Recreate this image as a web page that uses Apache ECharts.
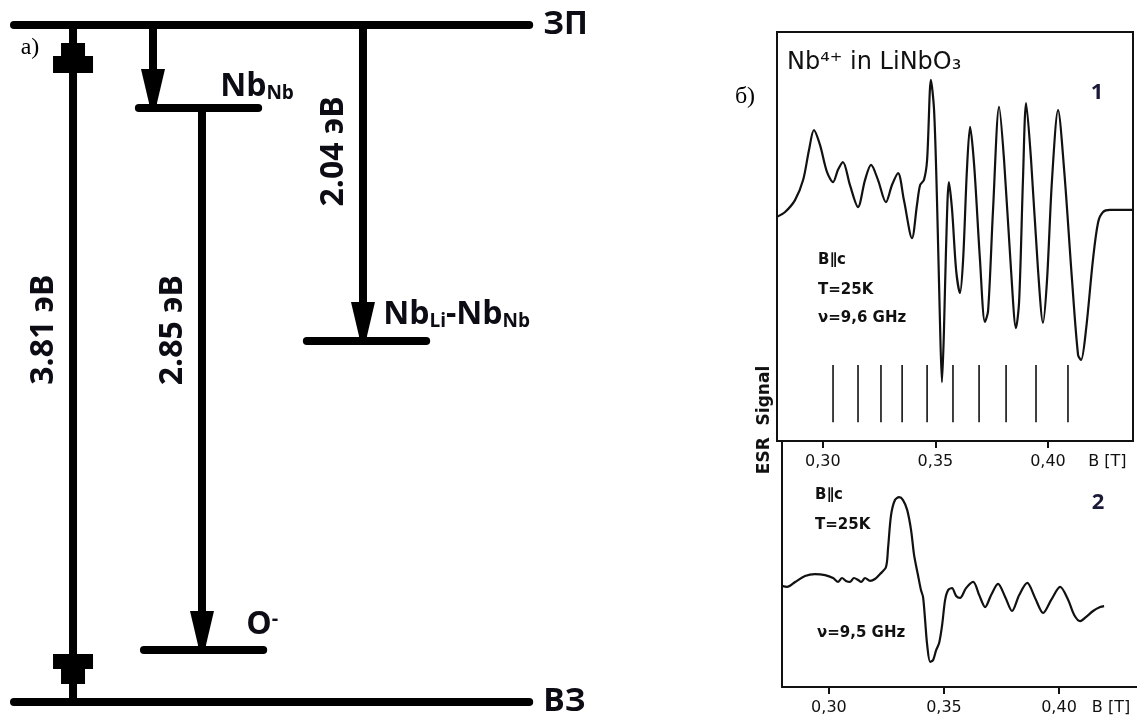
<!DOCTYPE html>
<html>
<head>
<meta charset="utf-8">
<script src="https://cdn.jsdelivr.net/npm/echarts@6/dist/echarts.min.js"></script>
<style>
  html, body { margin: 0; padding: 0; background: #fff; }
  #chart { width: 1137px; height: 718px; }
</style>
</head>
<body>
<div id="chart"></div>
<script>
// ---------- а) energy-level scheme (schematic, not to scale) ----------
const levelNames    = ['ЗП', 'ВЗ', 'Nb{s|Nb}', 'Nb{s|Li}-Nb{s|Nb}', 'O{p|-}'];
const levelPosition = [3.81, 0, 3.343, 2.032, 0.293];   // height of each level in the scheme
const levelFrom     = [2.5, 2.5, 24.8, 54.8, 25.7];     // horizontal extent, scheme columns
const levelTo       = [94.5, 94.5, 46.1, 76.1, 47.0];

const transitionColumn = [13.04, 27.32, 36.07, 64.82];
const transitionFrom   = [3.81, 3.81, 3.343, 3.81];
const transitionTo     = [0, 3.343, 0.293, 2.032];
const transitionLabel  = ['3.81 эВ', '', '2.85 эВ', '2.04 эВ'];

// ---------- б) ESR spectra of Nb4+ in LiNbO3 ----------
const upperField = [0.2796,0.2832,0.2876,0.2912,0.2938,0.2960,0.2987,0.3018,0.3045,0.3067,0.3089,0.3120,0.3156,0.3187,0.3214,0.3245,0.3280,0.3307,0.3334,0.3360,0.3396,0.3418,0.3432,0.3449,0.3463,0.3480,0.3494,0.3507,0.3520,0.3529,0.3538,0.3547,0.3560,0.3574,0.3592,0.3609,0.3623,0.3640,0.3654,0.3672,0.3698,0.3720,0.3734,0.3756,0.3783,0.3805,0.3836,0.3858,0.3872,0.3889,0.3903,0.3925,0.3956,0.3978,0.3996,0.4018,0.4045,0.4072,0.4107,0.4134,0.4147,0.4169,0.4200,0.4223,0.4245,0.4276,0.4378];
const upperSignal = [54.8,56.0,58.9,63.8,71.1,76.0,72.4,65.8,63.3,66.3,68.2,62.6,57.2,63.8,67.5,63.8,58.4,62.6,65.5,58.9,49.6,57.7,62.6,63.8,68.7,88.3,80.9,58.9,29.6,14.4,27.1,46.7,63.3,56.5,41.8,36.2,44.3,66.3,76.8,67.5,44.3,29.1,31.8,56.5,81.7,68.7,41.8,27.6,34.2,63.8,82.6,68.7,41.8,28.9,39.4,63.8,80.9,66.3,39.4,21.0,19.8,27.1,44.3,53.5,56.0,56.5,56.5];

// hyperfine line positions (I = 9/2, ten lines)
const stickField = [0.3045,0.3156,0.3258,0.3352,0.3463,0.3578,0.3694,0.3814,0.3947,0.4089];
const stickLow = 4.6;
const stickHigh = 18.6;

const lowerField = [0.2796,0.2818,0.2853,0.2896,0.2939,0.2983,0.3018,0.3040,0.3057,0.3074,0.3092,0.3109,0.3127,0.3140,0.3157,0.3179,0.3200,0.3222,0.3248,0.3257,0.3270,0.3287,0.3305,0.3322,0.3340,0.3357,0.3370,0.3387,0.3400,0.3409,0.3418,0.3427,0.3440,0.3453,0.3466,0.3479,0.3492,0.3505,0.3518,0.3535,0.3553,0.3570,0.3596,0.3627,0.3653,0.3679,0.3705,0.3735,0.3766,0.3796,0.3827,0.3862,0.3896,0.3931,0.3966,0.4005,0.4040,0.4066,0.4092,0.4118,0.4148,0.4179,0.4196];
const lowerSignal = [41.1,40.7,42.7,45.1,45.9,45.5,44.3,42.7,44.3,43.1,42.7,44.3,43.5,42.7,44.3,43.1,43.9,45.9,48.8,56.5,69.9,76.0,77.2,76.0,72.0,63.8,53.7,45.5,39.4,36.6,27.2,17.1,10.2,11.0,15.0,17.9,25.2,35.4,39.4,40.2,37.0,36.2,40.2,42.7,37.4,32.5,37.4,41.9,36.6,30.9,37.4,42.3,36.2,30.1,35.4,40.7,35.4,29.3,26.8,28.5,30.9,32.5,32.9];

const fieldTicks = [0.30, 0.35, 0.40];
const fieldUnit = 'B [T]';

// ---------- styling ----------
const INK = '#0c0c14';
const SCHEME_FONT = '"Open Sans", "Noto Sans", sans-serif';
const PLOT_FONT = '"DejaVu Sans", sans-serif';

// label placement of each level, relative to the right end of the level line
const levelLabelPlace = [
  { dx: 14, dy: 0 },
  { dx: 14, dy: 0 },
  { dx: -38, dy: -21 },
  { dx: -43, dy: -26 },
  { dx: -17, dy: -25 }
];
// where the rotated energy label sits along each transition (fraction from its start)
const transitionLabelAt = [0.45, 0, 0.41, 0.40];

const levelRich = {
  s: { fontFamily: SCHEME_FONT, fontWeight: 'bold', fontSize: 19, verticalAlign: 'bottom', fill: INK },
  p: { fontFamily: SCHEME_FONT, fontWeight: 'bold', fontSize: 20, verticalAlign: 'top', fill: INK }
};

function renderLevel(params, api) {
  const i = params.dataIndex;
  const a = api.coord([api.value(0), api.value(2)]);
  const b = api.coord([api.value(1), api.value(2)]);
  const place = levelLabelPlace[i];
  return {
    type: 'group',
    children: [
      { type: 'line', shape: { x1: a[0], y1: a[1], x2: b[0], y2: b[1] },
        style: { stroke: '#000', lineWidth: 8, lineCap: 'round' } },
      { type: 'text', x: b[0] + place.dx, y: b[1] + place.dy,
        style: { text: levelNames[i], font: 'bold 32px ' + SCHEME_FONT, fill: INK,
                 align: 'left', verticalAlign: 'middle', rich: levelRich } }
    ]
  };
}

function headDown(cx, tip) {
  return { type: 'polygon', shape: { points: [[cx - 12, tip - 34], [cx + 12, tip - 34], [cx + 4, tip], [cx - 4, tip]] },
           style: { fill: '#000' } };
}

function renderTransition(params, api) {
  const i = params.dataIndex;
  const p0 = api.coord([api.value(0), api.value(1)]);
  const p1 = api.coord([api.value(0), api.value(2)]);
  const cx = p0[0];
  const children = [
    { type: 'line', shape: { x1: cx, y1: p0[1], x2: cx, y2: p1[1] },
      style: { stroke: '#000', lineWidth: 8 } }
  ];
  if (i === 0) {
    // stepped heads at both ends of the band-to-band arrow
    const t = p0[1] + 18;
    children.push({ type: 'polygon', shape: { points: [[cx - 12, t], [cx + 12, t], [cx + 12, t + 13], [cx + 20, t + 13], [cx + 20, t + 30], [cx - 20, t + 30], [cx - 20, t + 13], [cx - 12, t + 13]] }, style: { fill: '#000' } });
    const b = p1[1] - 18;
    children.push({ type: 'polygon', shape: { points: [[cx - 12, b], [cx + 12, b], [cx + 12, b - 15], [cx + 20, b - 15], [cx + 20, b - 30], [cx - 20, b - 30], [cx - 20, b - 15], [cx - 12, b - 15]] }, style: { fill: '#000' } });
  } else {
    children.push(headDown(cx, p1[1] - 5));
  }
  if (transitionLabel[i]) {
    const f = transitionLabelAt[i];
    children.push({ type: 'text', x: cx - 29, y: p0[1] + f * (p1[1] - p0[1]), rotation: Math.PI / 2,
      style: { text: transitionLabel[i], font: 'bold 32px ' + SCHEME_FONT, fill: INK, align: 'center', verticalAlign: 'middle' } });
  }
  return { type: 'group', children };
}

function renderStick(params, api) {
  const a = api.coord([api.value(0), api.value(1)]);
  const b = api.coord([api.value(0), api.value(2)]);
  return { type: 'line', shape: { x1: a[0], y1: a[1], x2: b[0], y2: b[1] },
           style: { stroke: '#111', lineWidth: 1.6 } };
}

function fieldAxis(gridIndex, min, max, unitAt) {
  return {
    gridIndex, type: 'value', min, max,
    axisLine: { show: true, onZero: false, lineStyle: { color: '#111', width: 2 } },
    axisTick: { show: true, inside: false, length: 7, customValues: fieldTicks, lineStyle: { color: '#111', width: 2 } },
    axisLabel: {
      customValues: fieldTicks.concat([unitAt]), margin: 13,
      fontFamily: PLOT_FONT, fontSize: 16, color: '#111',
      formatter: v => (Math.abs(v - unitAt) < 1e-6 ? fieldUnit : v.toFixed(2).replace('.', ','))
    },
    splitLine: { show: false }
  };
}

const upperMin = 0.2796, upperMax = 0.4378;
const lowerMin = 0.2796, lowerMax = 0.4339;

const plotText = (text, x, y, size, extra) => Object.assign({
  type: 'text', x, y,
  style: { text, font: 'bold ' + size + 'px ' + PLOT_FONT, fill: '#111', align: 'left', verticalAlign: 'middle',
           textAlign: 'left', textVerticalAlign: 'middle' }
}, extra || {});

const option = {
  animation: false,
  backgroundColor: '#fff',
  grid: [
    { left: 0, top: 25, width: 560, height: 677 },
    { left: 777, top: 32, width: 356, height: 409, show: true, borderColor: '#111', borderWidth: 2, backgroundColor: 'transparent' },
    { left: 782, top: 441, width: 355, height: 246 }
  ],
  xAxis: [
    { gridIndex: 0, type: 'value', min: 0, max: 100, show: false },
    fieldAxis(1, upperMin, upperMax, 0.4264),
    fieldAxis(2, lowerMin, lowerMax, 0.4226)
  ],
  yAxis: [
    { gridIndex: 0, type: 'value', min: 0, max: 3.81, show: false },
    { gridIndex: 1, type: 'value', min: 0, max: 100, show: false },
    { gridIndex: 2, type: 'value', min: 0, max: 100,
      axisLine: { show: true, lineStyle: { color: '#111', width: 2 } },
      axisTick: { show: false }, axisLabel: { show: false }, splitLine: { show: false } }
  ],
  series: [
    {
      type: 'custom', xAxisIndex: 0, yAxisIndex: 0, renderItem: renderLevel,
      data: levelPosition.map((e, i) => [levelFrom[i], levelTo[i], e])
    },
    {
      type: 'custom', xAxisIndex: 0, yAxisIndex: 0, renderItem: renderTransition,
      data: transitionColumn.map((x, i) => [x, transitionFrom[i], transitionTo[i]])
    },
    {
      type: 'line', xAxisIndex: 1, yAxisIndex: 1, smooth: 0.3, symbol: 'none',
      lineStyle: { color: '#111', width: 2.2 },
      data: upperField.map((b, i) => [b, upperSignal[i]])
    },
    {
      type: 'custom', xAxisIndex: 1, yAxisIndex: 1, renderItem: renderStick,
      data: stickField.map(b => [b, stickLow, stickHigh])
    },
    {
      type: 'line', xAxisIndex: 2, yAxisIndex: 2, smooth: 0.3, symbol: 'none',
      lineStyle: { color: '#111', width: 2.2 },
      data: lowerField.map((b, i) => [b, lowerSignal[i]])
    }
  ],
  graphic: [
    { type: 'text', x: 30, y: 48, style: { text: 'а)', font: '24px "Liberation Serif", serif', fill: '#000', align: 'center', verticalAlign: 'middle', textAlign: 'center', textVerticalAlign: 'middle' } },
    { type: 'text', x: 745, y: 97, style: { text: 'б)', font: '24px "Liberation Serif", serif', fill: '#000', align: 'center', verticalAlign: 'middle', textAlign: 'center', textVerticalAlign: 'middle' } },
    { type: 'text', x: 787, y: 63, style: { text: 'Nb⁴⁺ in LiNbO₃', font: '24px ' + PLOT_FONT, fill: '#111', align: 'left', verticalAlign: 'middle', textAlign: 'left', textVerticalAlign: 'middle' } },
    { type: 'text', x: 1097, y: 93, style: { text: '1', font: 'bold 22px ' + SCHEME_FONT, fill: '#1a1a38', align: 'center', verticalAlign: 'middle', textAlign: 'center', textVerticalAlign: 'middle' } },
    { type: 'text', x: 1098, y: 503, style: { text: '2', font: 'bold 22px ' + SCHEME_FONT, fill: '#1a1a38', align: 'center', verticalAlign: 'middle', textAlign: 'center', textVerticalAlign: 'middle' } },
    plotText('B∥c', 818, 260, 15),
    plotText('T=25K', 818, 290, 15),
    plotText('ν=9,6 GHz', 818, 318, 15),
    plotText('B∥c', 815, 495, 15),
    plotText('T=25K', 815, 525, 15),
    plotText('ν=9,5 GHz', 817, 633, 15),
    { type: 'text', x: 765, y: 420, rotation: Math.PI / 2,
      style: { text: 'ESR  Signal', font: 'bold 17px ' + PLOT_FONT, fill: '#111', align: 'center', verticalAlign: 'middle', textAlign: 'center', textVerticalAlign: 'middle' } }
  ]
};

const chart = echarts.init(document.getElementById('chart'), null, { renderer: 'canvas' });
chart.setOption(option);
</script>
</body>
</html>
